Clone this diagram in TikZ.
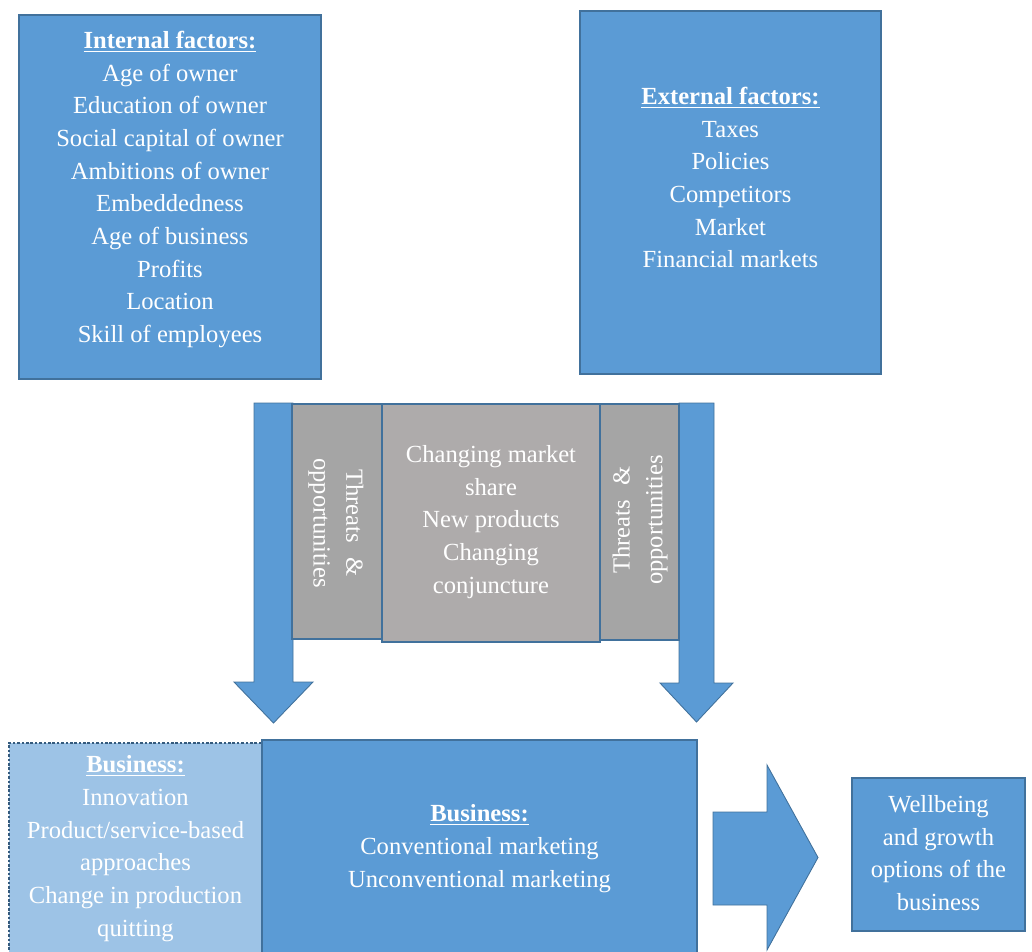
\documentclass[tikz,border=0pt]{standalone}
\usepackage{fontspec}
\setmainfont{Liberation Serif}
\usetikzlibrary{positioning}
\definecolor{boxblue}{HTML}{5B9BD5}
\definecolor{edgeblue}{HTML}{41719C}
\definecolor{lightblue}{HTML}{9DC3E6}
\definecolor{darkgrey}{HTML}{A5A5A5}
\definecolor{midgrey}{HTML}{AEABAB}
\tikzset{sz/.style 2 args={minimum width=#1*0.02cm, minimum height=#2*0.02cm}}

\begin{document}
\begin{tikzpicture}[x=0.02cm,y=-0.02cm]
	\tikzstyle{bluebox} = [rectangle, inner sep=0pt, draw=edgeblue, fill=boxblue, line width=0.7pt]
	\tikzstyle{greybox} = [rectangle, inner sep=0pt, draw=edgeblue, fill=darkgrey, line width=0.6pt]
	\tikzstyle{txt} = [align=center, text=white, inner sep=0pt, font=\fontsize{14}{18.6}\selectfont]
	\tikzstyle{blockarrow} = [draw=edgeblue, fill=boxblue, line width=0.5pt, line join=miter]
	
	\useasboundingbox (0,0) rectangle (1032,951);
	\clip (0,0) rectangle (1032,951);
	
	\node (internal) at (170,197) [bluebox, sz={302}{364}]{};
	\node (internaltxt) at (170,189.5) [txt]{\underline{\textbf{Internal factors:}}\\Age of owner\\Education of owner\\Social capital of owner\\Ambitions of owner\\Embeddedness\\Age of business\\Profits\\Location\\Skill of employees};
	
	\node (external) at (730.5,192.5) [bluebox, sz={301}{363}]{};
	\node (externaltxt) at (730.5,177.5) [txt]{\underline{\textbf{External factors:}}\\Taxes\\Policies\\Competitors\\Market\\Financial markets};
	
	%down arrows
	\draw[blockarrow] (254,403) -- (293,403) -- (293,682) -- (313,682) -- (273.5,723) coordinate (tipl) -- (234,682) -- (254,682) -- cycle;
	\draw[blockarrow] (679,403) -- (714,403) -- (714,683) -- (733,683) -- (696.5,722) coordinate (tipr) -- (660,683) -- (679,683) -- cycle;
	
	\node (threatsl) at (337,521.5) [greybox, sz={90}{235}]{};
	\node (change) at (491,523) [greybox, fill=midgrey, sz={218}{238}]{};
	\node (threatsr) at (639.5,522) [greybox, sz={79}{236}]{};
	\node[txt, rotate=-90] (threatsltxt) at (336,523) {Threats\hspace{0.6em}\&\\opportunities};
	\node[txt, rotate=90] (threatsrtxt) at (640,520) {Threats\hspace{0.6em}\&\\opportunities};
	\node (changetxt) at (491,522) [txt]{Changing market\\share\\New products\\Changing\\conjuncture};
	
	%business
	\node (innov) at (135.5,849) [bluebox, fill=lightblue, draw=edgeblue!80!black, dash pattern=on 1.5pt off 1pt, sz={253}{212}]{};
	\node (innovtxt) at (135.5,848.5) [txt]{\underline{\textbf{Business:}}\\Innovation\\Product/service-based\\approaches\\Change in production\\quitting};
	\node (marketing) at (479.5,847.5) [bluebox, sz={435}{215}]{};
	\node (marketingtxt) at (479.5,848.5) [txt]{\underline{\textbf{Business:}}\\Conventional marketing\\Unconventional marketing};
	
	%result
	\draw[blockarrow] (713,812) -- (767,812) -- (767,765) -- (818,857.5) coordinate (tipw) -- (767,950) -- (767,905) -- (713,905) -- cycle;
	\node (wellbeing) at (938.5,854.5) [bluebox, sz={173}{153}]{};
	\node (wellbeingtxt) at (938.5,853) [txt]{Wellbeing\\and growth\\options of the\\business};
	
\end{tikzpicture}
\end{document}
